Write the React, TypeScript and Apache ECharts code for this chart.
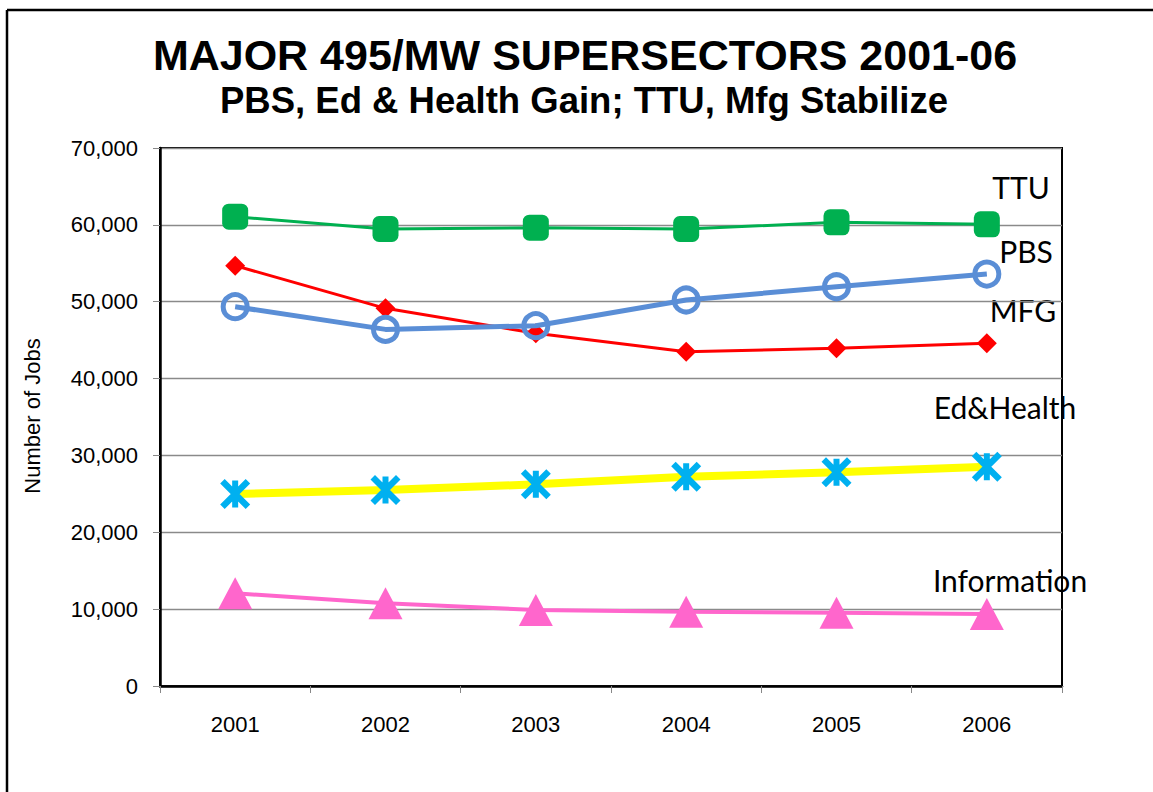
import React, { useEffect, useRef } from "react";
import * as echarts from "echarts";

const years = ["2001", "2002", "2003", "2004", "2005", "2006"];
const ttu = [61060, 59460, 59630, 59460, 60330, 60070];
const pbs = [49350, 46400, 46880, 50220, 51950, 53600];
const mfg = [54690, 49140, 45890, 43500, 43930, 44590];
const edHealth = [24980, 25500, 26240, 27230, 27800, 28530];
const information = [12060, 10760, 9890, 9670, 9540, 9370];

const titleText = "MAJOR 495/MW SUPERSECTORS 2001-06";
const subtitleText = "PBS, Ed & Health Gain; TTU, Mfg Stabilize";
const yAxisName = "Number of Jobs";

const asterisk =
  "path://M0 15 L15 0 L100 85 L85 100 Z M85 0 L100 15 L15 100 L0 85 Z M40 5 L60 5 L60 95 L40 95 Z";

export default function App() {
  const ref = useRef<HTMLDivElement>(null);
  useEffect(() => {
    const chart = echarts.init(ref.current!, null, { renderer: "svg" });
    const labelFont = "Lato, 'Open Sans', sans-serif";
    const arial = "'Liberation Sans', Arial, sans-serif";
    const seriesLabel = (text: string, x: number, y: number) => ({
      type: "text",
      x,
      y,
      style: { text, fontSize: 30, fontFamily: labelFont, fill: "#000", align: "center", verticalAlign: "middle" },
    });
    chart.setOption({
      animation: false,
      backgroundColor: "#ffffff",
      grid: {
        left: 160,
        top: 148,
        width: 902,
        height: 538,
        show: true,
        borderColor: "#000",
        borderWidth: 2,
        backgroundColor: "transparent",
      },
      xAxis: {
        type: "category",
        data: years,
        boundaryGap: true,
        axisLine: { lineStyle: { color: "#000", width: 2.5 } },
        axisTick: { show: true, length: 7, lineStyle: { color: "#888", width: 1 } },
        axisLabel: {
          margin: 27,
          fontSize: 22,
          color: "#000",
          fontFamily: arial,
        },
      },
      yAxis: {
        type: "value",
        min: 0,
        max: 70000,
        interval: 10000,
        axisLine: { show: true, lineStyle: { color: "#000", width: 2.5 } },
        axisTick: { show: true, length: 7, lineStyle: { color: "#888", width: 1 } },
        splitLine: { show: true, lineStyle: { color: "#8a8a8a", width: 1.4 } },
        axisLabel: {
          margin: 22,
          fontSize: 22,
          color: "#000",
          fontFamily: arial,
          formatter: (v: number) => v.toLocaleString("en-US"),
        },
      },
      series: [
        {
          name: "TTU",
          type: "line",
          data: ttu,
          symbol: "roundRect",
          symbolSize: 26,
          lineStyle: { color: "#00B050", width: 3 },
          itemStyle: { color: "#00B050" },
          z: 3,
        },
        {
          name: "MFG",
          type: "line",
          data: mfg,
          symbol: "diamond",
          symbolSize: 20,
          lineStyle: { color: "#FF0000", width: 3 },
          itemStyle: { color: "#FF0000" },
          z: 3,
        },
        {
          name: "PBS",
          type: "line",
          data: pbs,
          symbol: "circle",
          symbolSize: 24,
          lineStyle: { color: "#5A8ED6", width: 5 },
          itemStyle: { color: "rgba(255,255,255,0)", borderColor: "#5A8ED6", borderWidth: 5 },
          z: 4,
        },
        {
          name: "Ed&Health",
          type: "line",
          data: edHealth,
          symbol: asterisk,
          symbolSize: 30,
          lineStyle: { color: "#FFFF00", width: 8 },
          itemStyle: { color: "#00B0F0" },
          z: 3,
        },
        {
          name: "Information",
          type: "line",
          data: information,
          symbol: "triangle",
          symbolSize: [34, 32],
          lineStyle: { color: "#FF66CC", width: 4 },
          itemStyle: { color: "#FF66CC" },
          z: 3,
        },
      ],
      graphic: [
        {
          type: "line",
          shape: { x1: 7, y1: 10, x2: 1153, y2: 10 },
          style: { stroke: "#000", lineWidth: 2.5 },
        },
        {
          type: "line",
          shape: { x1: 7, y1: 10, x2: 7, y2: 792 },
          style: { stroke: "#000", lineWidth: 2.5 },
        },
        {
          type: "text",
          x: 585,
          y: 55,
          style: {
            text: titleText,
            fontSize: 43,
            fontWeight: "bold",
            fontFamily: arial,
            fill: "#000",
            align: "center",
            verticalAlign: "middle",
          },
        },
        {
          type: "text",
          x: 584,
          y: 100,
          style: {
            text: subtitleText,
            fontSize: 36.5,
            fontWeight: "bold",
            fontFamily: arial,
            fill: "#000",
            align: "center",
            verticalAlign: "middle",
          },
        },
        {
          type: "text",
          x: 32,
          y: 416,
          rotation: Math.PI / 2,
          style: {
            text: yAxisName,
            fontSize: 22,
            fontFamily: arial,
            fill: "#000",
            align: "center",
            verticalAlign: "middle",
          },
        },
        seriesLabel("TTU", 1021, 187),
        seriesLabel("PBS", 1026, 251),
        seriesLabel("MFG", 1023, 310),
        seriesLabel("Ed&Health", 1005, 407),
        seriesLabel("Information", 1010, 580),
      ],
    });
    return () => chart.dispose();
  }, []);
  return (
    <div
      ref={ref}
      style={{ position: "fixed", left: 0, top: 0, width: 1153, height: 792 }}
    />
  );
}
